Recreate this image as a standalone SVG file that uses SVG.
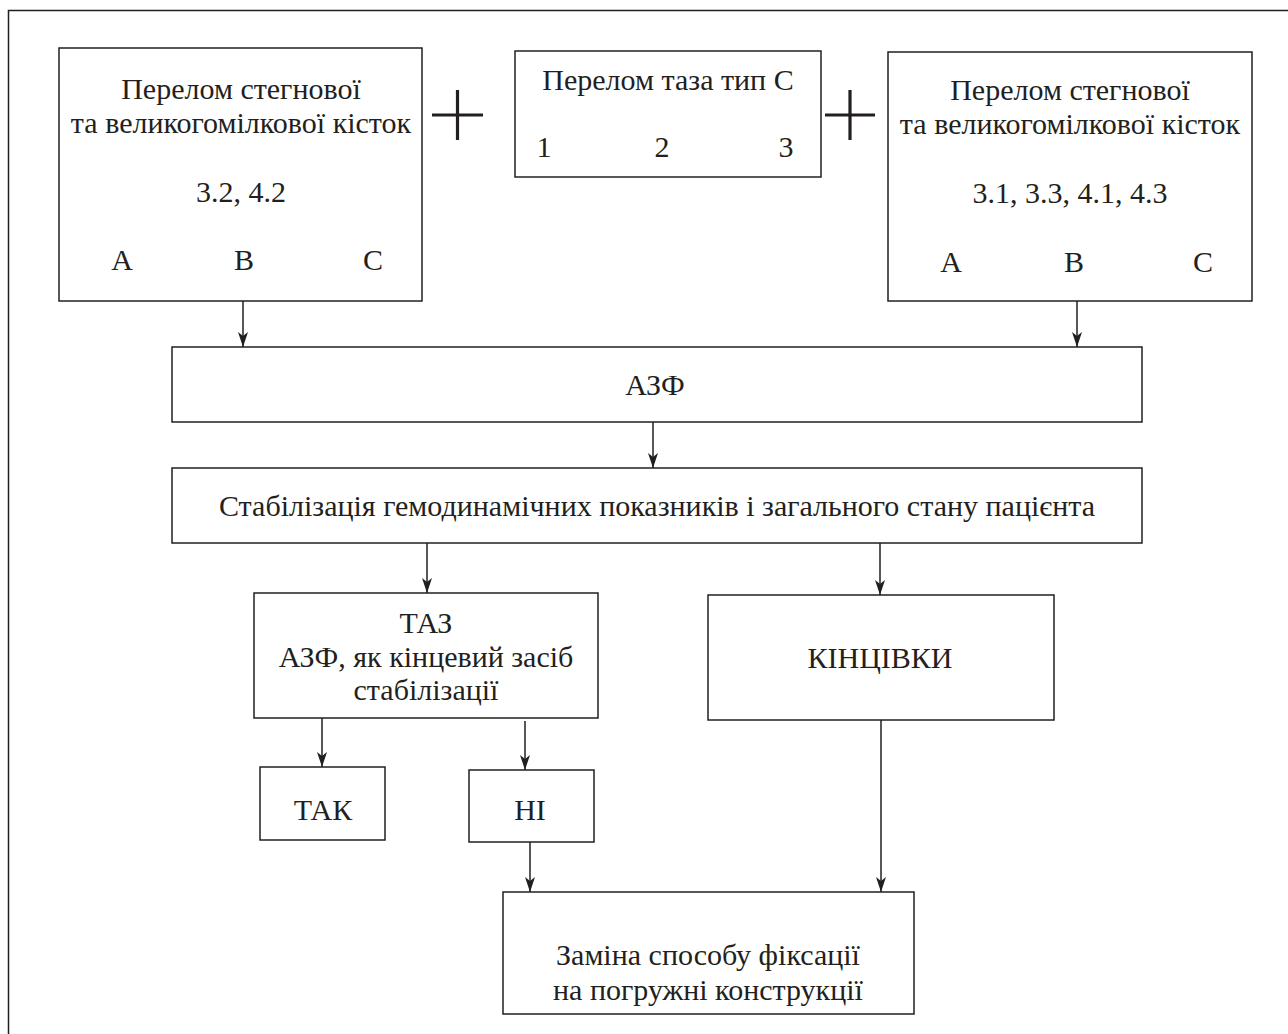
<svg xmlns="http://www.w3.org/2000/svg" width="1288" height="1034" viewBox="0 0 1288 1034">
<style>
.box{fill:#fff;stroke:#231f20;stroke-width:1.5}
.t{font-family:"Liberation Serif","Times New Roman",serif;font-size:30px;fill:#231f20;text-anchor:middle}
.c{stroke:#231f20;stroke-width:1.5;fill:none}
.plus{stroke:#231f20;stroke-width:3.2;fill:none}
</style>
<defs>
<marker id="ah" markerWidth="16" markerHeight="10" refX="15" refY="5" orient="auto" markerUnits="userSpaceOnUse" viewBox="0 0 16 10">
<path d="M0,0 L15,5 L0,10 L4,5 Z" fill="#231f20"/>
</marker>
</defs>
<rect width="1288" height="1034" fill="#fff"/>
<path class="c" d="M8.5,1034 V10.5 H1288"/>
<g id="n1"><rect class="box" x="59" y="48" width="363" height="253"/>
<text class="t" x="241" y="99">Перелом стегнової</text>
<text class="t" x="241" y="133">та великогомілкової кісток</text>
<text class="t" x="241" y="202">3.2, 4.2</text>
<text class="t" x="122" y="270">A</text><text class="t" x="244" y="270">B</text><text class="t" x="373" y="270">C</text></g>
<g id="plus1"><path class="plus" d="M432,115 H483 M457.5,90 V140"/></g>
<g id="n2"><rect class="box" x="515" y="51" width="306" height="126"/>
<text class="t" x="668" y="90">Перелом таза тип С</text>
<text class="t" x="544" y="157">1</text><text class="t" x="662" y="157">2</text><text class="t" x="786" y="157">3</text></g>
<g id="plus2"><path class="plus" d="M825,115 H875 M850,90 V140"/></g>
<g id="n3"><rect class="box" x="888" y="52" width="364" height="249"/>
<text class="t" x="1070" y="100">Перелом стегнової</text>
<text class="t" x="1070" y="134">та великогомілкової кісток</text>
<text class="t" x="1070" y="203">3.1, 3.3, 4.1, 4.3</text>
<text class="t" x="951" y="272">A</text><text class="t" x="1074" y="272">B</text><text class="t" x="1203" y="272">C</text></g>
<g id="n4"><rect class="box" x="172" y="347" width="970" height="75"/>
<text class="t" x="655" y="395">АЗФ</text></g>
<g id="n5"><rect class="box" x="172" y="468" width="970" height="75"/>
<text class="t" x="657" y="516">Стабілізація гемодинамічних показників і загального стану пацієнта</text></g>
<g id="n6"><rect class="box" x="254" y="593" width="344" height="125"/>
<text class="t" x="426" y="633">ТАЗ</text>
<text class="t" x="426" y="667">АЗФ, як кінцевий засіб</text>
<text class="t" x="426" y="700">стабілізації</text></g>
<g id="n7"><rect class="box" x="708" y="595" width="346" height="125"/>
<text class="t" x="880" y="668">КІНЦІВКИ</text></g>
<g id="n8"><rect class="box" x="260" y="767" width="125" height="73"/>
<text class="t" x="323" y="820">ТАК</text></g>
<g id="n9"><rect class="box" x="469" y="770" width="125" height="72"/>
<text class="t" x="530" y="820">НІ</text></g>
<g id="n10"><rect class="box" x="503" y="892" width="411" height="122"/>
<text class="t" x="708" y="965">Заміна способу фіксації</text>
<text class="t" x="708" y="1000">на погружні конструкції</text></g>
<g id="connectors">
<path class="c" d="M243,301 V347" marker-end="url(#ah)"/>
<path class="c" d="M1077,301 V347" marker-end="url(#ah)"/>
<path class="c" d="M653,422 V468" marker-end="url(#ah)"/>
<path class="c" d="M427,543 V593" marker-end="url(#ah)"/>
<path class="c" d="M880,543 V595" marker-end="url(#ah)"/>
<path class="c" d="M322,718 V767" marker-end="url(#ah)"/>
<path class="c" d="M525,721 V770" marker-end="url(#ah)"/>
<path class="c" d="M530,842 V892" marker-end="url(#ah)"/>
<path class="c" d="M881,720 V892" marker-end="url(#ah)"/>
</g>
</svg>
